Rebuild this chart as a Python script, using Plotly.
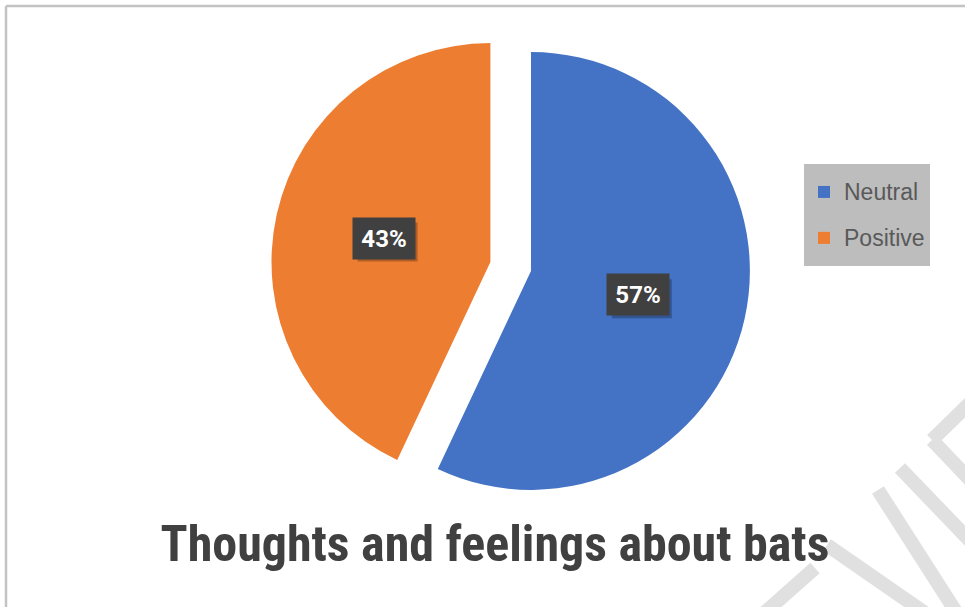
import math
import plotly.graph_objects as go

# ---- data ----
categories = ["Neutral", "Positive"]
values = [57, 43]
pulls = [0.0, 0.19]
colors = ["#4472C4", "#ED7D31"]
title_text = "Thoughts and feelings about bats"

W, H = 965, 607
dom_x = [0.2803, 0.8202]
dom_y = [0.1244, 0.9827]

legend_labels = [
    "<span style='font-size:23px;baseline-shift:5px'>%s</span>" % c for c in categories
]

fig = go.Figure()
fig.add_trace(go.Pie(
    labels=legend_labels,
    values=values,
    pull=pulls,
    sort=False,
    direction="clockwise",
    rotation=0,
    marker=dict(colors=colors, line=dict(width=0)),
    textinfo="none",
    hoverinfo="percent",
    domain=dict(x=dom_x, y=dom_y),
))

# geometry derived from the pie's domain (mirrors plotly's pie layout)
availW = W * (dom_x[1] - dom_x[0])
availH = H * (dom_y[1] - dom_y[0])
r = min(availW, availH) / (2 + 2 * max(pulls))
cx = W * (dom_x[0] + dom_x[1]) / 2
cy = H * (1 - dom_y[0]) - availH / 2

annotations = []
shapes = []
total = sum(values)
start = 0.0
BW, BH = 60, 39
for v, p in zip(values, pulls):
    frac = v / total
    mid = (start + frac / 2) * 2 * math.pi
    start += frac
    ux, uy = math.sin(mid), -math.cos(mid)
    px = cx + ux * r * (p + 0.5)
    py = cy + uy * r * (p + 0.5)
    pct = "%d%%" % round(frac * 100)
    # drop shadow of the label box
    shapes.append(dict(type="rect", xref="paper", yref="paper",
                       xsizemode="pixel", ysizemode="pixel",
                       xanchor=px / W, yanchor=1 - py / H,
                       x0=-BW / 2 + 4, x1=BW / 2 + 4, y0=-BH / 2 - 4, y1=BH / 2 - 4,
                       fillcolor="rgba(0,0,0,0.25)", line=dict(width=0), layer="above"))
    annotations.append(dict(x=px / W, y=1 - py / H, xref="paper", yref="paper",
                            text=pct, showarrow=False, width=BW, height=BH, borderpad=1,
                            bgcolor="#404040",
                            font=dict(family="Roboto, Liberation Sans, sans-serif", size=24,
                                      weight="bold", color="white")))

# decorative frame and faint watermark strokes
def P(x, y):
    return x / W, 1 - y / H

for (x0, y0, x1, y1) in [(6, 6, 980, 6), (6, 6, 6, 620)]:
    a, b = P(x0, y0); c, d = P(x1, y1)
    shapes.append(dict(type="line", xref="paper", yref="paper", x0=a, y0=b, x1=c, y1=d,
                       line=dict(color="#c3c3c3", width=2.5), layer="below"))
for (x0, y0, x1, y1) in [(815, 568, 762, 615), (827, 545, 928, 615), (878, 490, 958, 615),
                         (900, 468, 972, 543), (932, 440, 972, 401), (932, 440, 972, 482)]:
    a, b = P(x0, y0); c, d = P(x1, y1)
    shapes.append(dict(type="line", xref="paper", yref="paper", x0=a, y0=b, x1=c, y1=d,
                       line=dict(color="#e0e0e0", width=14), layer="below"))

fig.update_layout(
    width=W, height=H,
    margin=dict(l=0, r=0, t=0, b=0),
    paper_bgcolor="white",
    plot_bgcolor="white",
    title=dict(text="<b>%s</b>" % title_text, x=495 / W, y=1 - 543 / H,
               xref="container", yref="container", xanchor="center", yanchor="middle",
               font=dict(family="Roboto Condensed, Liberation Sans Narrow, DejaVu Sans Condensed, Arial Narrow, Roboto",
                         size=50, color="#404040")),
    showlegend=True,
    legend=dict(x=804 / W, y=1 - 164 / H, xanchor="left", yanchor="top",
                bgcolor="#bdbdbd", font=dict(family="Liberation Sans, Arial, sans-serif",
                                             size=33, color="#595959"),
                itemclick=False),
    annotations=annotations,
    shapes=shapes,
)

fig.write_html("out.html", config={"displayModeBar": False},
               post_script="document.body.style.margin='0';")
